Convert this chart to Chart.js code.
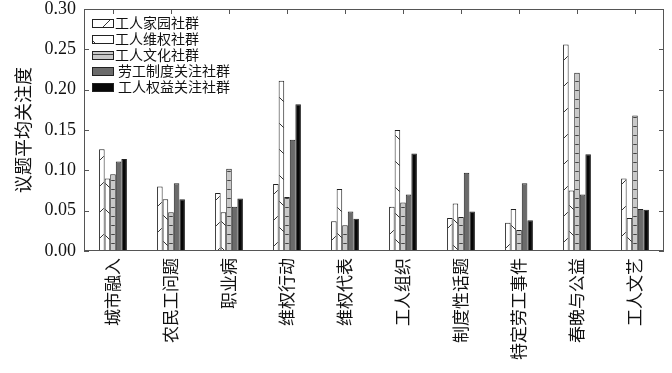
<!DOCTYPE html>
<html>
<head>
<meta charset="utf-8">
<script src="https://cdn.jsdelivr.net/npm/chart.js@4"></script>
<style>
  html, body { margin: 0; padding: 0; background: #fff; }
  #wrap { width: 672px; height: 373px; }
</style>
</head>
<body>
<div id="wrap"><canvas id="chart" width="672" height="373"></canvas></div>
<script>
const topics = ["城市融入", "农民工问题", "职业病", "维权行动", "维权代表", "工人组织", "制度性话题", "特定劳工事件", "春晚与公益", "工人文艺"];
const seriesNames = ["工人家园社群", "工人维权社群", "工人文化社群", "劳工制度关注社群", "工人权益关注社群"];
const homeValues = [0.126, 0.080, 0.072, 0.083, 0.037, 0.055, 0.041, 0.035, 0.256, 0.090];
const rightsValues = [0.090, 0.064, 0.048, 0.211, 0.077, 0.150, 0.059, 0.052, 0.075, 0.041];
const cultureValues = [0.095, 0.048, 0.102, 0.067, 0.032, 0.060, 0.042, 0.026, 0.221, 0.168];
const systemValues = [0.111, 0.084, 0.055, 0.138, 0.049, 0.070, 0.097, 0.084, 0.070, 0.052];
const interestValues = [0.114, 0.064, 0.065, 0.182, 0.040, 0.121, 0.049, 0.038, 0.120, 0.051];
const yTicks = [0, 0.05, 0.10, 0.15, 0.20, 0.25, 0.30];

const cjk = "'Noto Sans CJK SC', sans-serif";
const serif = "'Liberation Serif', 'Times New Roman', serif";

// hatch fills
function hatch(kind) {
  const c = document.createElement("canvas");
  const ctx2 = c.getContext("2d");
  if (kind === "h") {
    c.width = 10; c.height = 9;
    ctx2.fillStyle = "#c9c9c9";
    ctx2.fillRect(0, 0, 10, 9);
    ctx2.strokeStyle = "#444";
    ctx2.lineWidth = 1;
    ctx2.beginPath(); ctx2.moveTo(0, 0.5); ctx2.lineTo(10, 0.5); ctx2.stroke();
  } else {
    c.width = 26; c.height = 26;
    ctx2.fillStyle = "#fff";
    ctx2.fillRect(0, 0, 26, 26);
    ctx2.strokeStyle = "#333";
    ctx2.lineWidth = 1;
    ctx2.beginPath();
    if (kind === "/") { ctx2.moveTo(0, 26); ctx2.lineTo(26, 0); }
    else { ctx2.moveTo(0, 0); ctx2.lineTo(26, 26); }
    ctx2.stroke();
  }
  return document.getElementById("chart").getContext("2d").createPattern(c, "repeat");
}

const fills = [hatch("/"), hatch("\\"), hatch("h"), "#6b6b6b", "#080808"];
const valueSets = [homeValues, rightsValues, cultureValues, systemValues, interestValues];

const frameTicks = {
  id: "frameTicks",
  afterDraw(chart) {
    const { ctx, chartArea: a, scales } = chart;
    ctx.save();
    ctx.strokeStyle = "#555";
    ctx.lineWidth = 1;
    ctx.strokeRect(a.left + 0.5, a.top + 0.5, a.right - a.left - 1, a.bottom - a.top - 1);
    ctx.beginPath();
    yTicks.forEach((v) => {
      const y = Math.round(scales.y.getPixelForValue(v)) + 0.5;
      ctx.moveTo(a.left, y); ctx.lineTo(a.left + 5, y);
      ctx.moveTo(a.right, y); ctx.lineTo(a.right - 5, y);
    });
    topics.forEach((t, i) => {
      const x = Math.round(scales.x.getPixelForTick(i)) + 0.5;
      ctx.moveTo(x, a.top); ctx.lineTo(x, a.top + 5);
    });
    ctx.stroke();
    // legend inside plot
    ctx.font = "14px " + cjk;
    ctx.textBaseline = "middle";
    chart.data.datasets.forEach((ds, i) => {
      const y = a.top + 14 + i * 16;
      const x = a.left + 8;
      ctx.fillStyle = ds.backgroundColor;
      ctx.fillRect(x, y - 4, 21, 8);
      ctx.strokeStyle = "#222";
      ctx.strokeRect(x + 0.5, y - 3.5, 21, 8);
      ctx.fillStyle = "#111";
      ctx.fillText(ds.label, x + 23 + (i > 2 ? 3 : 0), y);
    });
    ctx.restore();
  }
};

const config = {
  type: "bar",
  data: {
    labels: topics,
    datasets: seriesNames.map((name, i) => ({
      label: name,
      data: valueSets[i],
      backgroundColor: fills[i],
      borderColor: "#222",
      borderWidth: 1,
      categoryPercentage: 0.48,
      barPercentage: 1.0,
    })),
  },
  options: {
    responsive: false,
    animation: false,
    layout: { padding: { top: 9, right: 8, left: 0, bottom: 0 } },
    plugins: { legend: { display: false }, tooltip: { enabled: false } },
    scales: {
      x: {
        grid: { display: false, drawTicks: false },
        border: { display: false },
        ticks: {
          minRotation: 90, maxRotation: 90, padding: 7, color: "#111",
          font: { family: cjk, size: 17 },
        },
        afterFit(s) { s.height = 122; },
      },
      y: {
        min: 0, max: 0.3,
        grid: { display: false, drawTicks: false },
        border: { display: false },
        afterBuildTicks(s) { s.ticks = yTicks.map((v) => ({ value: v })); },
        ticks: {
          padding: 8, color: "#111",
          font: { family: serif, size: 18 },
          callback: (v) => Number(v).toFixed(2),
        },
        title: {
          display: true, text: "议题平均关注度", color: "#111",
          font: { family: cjk, size: 18 }, padding: { top: 12, bottom: 0 },
        },
        afterFit(s) { s.width = 84; s.paddingTop = 0; s.paddingBottom = 0; },
      },
    },
  },
  plugins: [frameTicks],
};
const chart = new Chart(document.getElementById("chart"), config);
</script>
</body>
</html>
